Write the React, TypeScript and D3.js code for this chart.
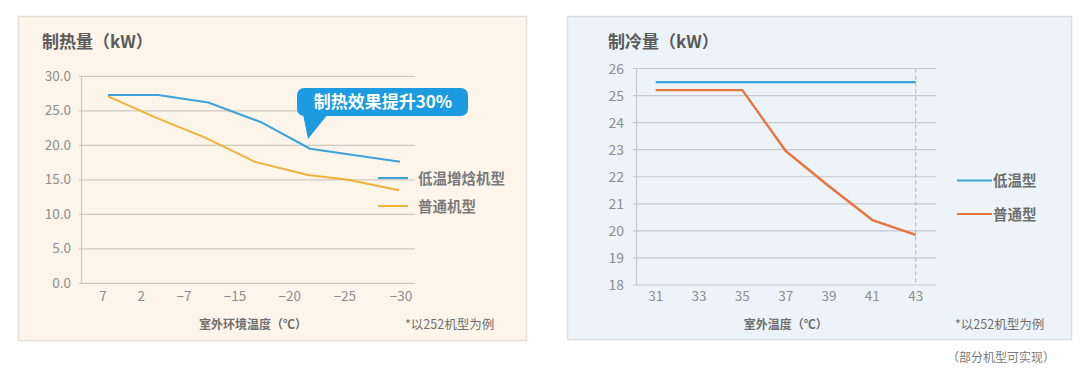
import React from 'react';
import * as d3 from 'd3';

// ---------- Left chart: heating capacity ----------
const heatTitle = '制热量（kW）';
const heatXTitle = '室外环境温度（℃）';
const heatCategories = ['7', '2', '−7', '−15', '−20', '−25', '−30'];
// category label positions along the (unevenly spaced) axis, in axis units
const heatTickPos = [0, 0.77, 1.63, 2.66, 3.76, 4.87, 6];
const heatYTicks = [0, 5, 10, 15, 20, 25, 30];
const heatLowTempX = [0.1, 1.11, 2.12, 3.2, 4.17, 5.98];
const heatLowTempY = [27.3, 27.3, 26.2, 23.3, 19.5, 17.6];
const heatNormalX = [0.1, 1.1, 2.09, 3.06, 4.13, 4.93, 5.96];
const heatNormalY = [27.1, 23.9, 21.0, 17.6, 15.7, 15.0, 13.5];
const heatLegend = ['低温增焓机型', '普通机型'];
const heatCallout = '制热效果提升30%';

// ---------- Right chart: cooling capacity ----------
const coolTitle = '制冷量（kW）';
const coolXTitle = '室外温度（℃）';
const coolTemps = [31, 33, 35, 37, 39, 41, 43];
const coolYTicks = [18, 19, 20, 21, 22, 23, 24, 25, 26];
const coolLowTemp = [25.5, 25.5, 25.5, 25.5, 25.5, 25.5, 25.5];
const coolNormal = [25.2, 25.2, 25.2, 22.95, 21.65, 20.4, 19.85];
const coolLegend = ['低温型', '普通型'];

const note = '*以252机型为例';
const footnote = '（部分机型可实现）';

const FONT = '"Noto Sans CJK SC", "Noto Sans", sans-serif';
const BLUE = '#3aa4da';
const GOLD = '#f2b233';
const ORANGE = '#e9733c';
const GRID = '#cfc8be';
const GRID2 = '#c3c9cf';
const TXT = '#8d8d8d';
const TITLE = '#5a5a5a';

function HeatChart() {
  const x = d3.scaleLinear().domain([0, 6]).range([103, 401]);
  const y = d3.scaleLinear().domain([0, 30]).range([283.3, 76.3]);
  const line = d3
    .line<[number, number]>()
    .x((d) => x(d[0]))
    .y((d) => y(d[1]));
  const blue = heatLowTempX.map((v, i) => [v, heatLowTempY[i]] as [number, number]);
  const gold = heatNormalX.map((v, i) => [v, heatNormalY[i]] as [number, number]);
  const gx0 = 81;
  const gx1 = 415;
  return (
    <g>
      <rect x={18.5} y={16.5} width={508} height={324} fill="#fdf5ea" stroke="#e2ddd6" strokeWidth={1.5} />
      <text x={42} y={48} fontSize={17} fontWeight={700} fill={TITLE}>{heatTitle}</text>
      {heatYTicks.map((t) => (
        <g key={t}>
          <line x1={gx0 - 2} x2={gx1} y1={y(t)} y2={y(t)} stroke={GRID} strokeWidth={1.2} />
          <text x={71} y={y(t) + 4.5} fontSize={13.5} fill={TXT} textAnchor="end">{t.toFixed(1)}</text>
        </g>
      ))}
      <line x1={81.5} x2={81.5} y1={y(30)} y2={y(0)} stroke={GRID} strokeWidth={1.2} />
      {heatCategories.map((c, i) => (
        <text key={c} x={x(heatTickPos[i])} y={301} fontSize={13.5} fill={TXT} textAnchor="middle">{c}</text>
      ))}
      <path d={line(gold) || ''} fill="none" stroke={GOLD} strokeWidth={2} strokeLinejoin="round" />
      <path d={line(blue) || ''} fill="none" stroke={BLUE} strokeWidth={2} strokeLinejoin="round" />
      {/* callout */}
      <rect x={297} y={88} width={171} height={28} rx={7} fill="#1d9be0" />
      <path d="M303,114 L308,139 L328,114 Z" fill="#1d9be0" />
      <text x={383} y={108} fontSize={17} fontWeight={700} fill="#ffffff" textAnchor="middle">{heatCallout}</text>
      {/* legend */}
      <line x1={378} x2={408} y1={178} y2={178} stroke={BLUE} strokeWidth={2} />
      <text x={418} y={183.5} fontSize={14.5} fontWeight={700} fill="#7a7a7a">{heatLegend[0]}</text>
      <line x1={378} x2={408} y1={206} y2={206} stroke={GOLD} strokeWidth={2} />
      <text x={418} y={211.5} fontSize={14.5} fontWeight={700} fill="#7a7a7a">{heatLegend[1]}</text>
      <text x={253} y={328.5} fontSize={12} fontWeight={700} fill="#6e6e6e" textAnchor="middle">{heatXTitle}</text>
      <text x={405} y={328.5} fontSize={12.5} fill="#6e6e6e">{note}</text>
    </g>
  );
}

function CoolChart() {
  const x = d3.scaleLinear().domain([31, 43]).range([655.7, 915.7]);
  const y = d3.scaleLinear().domain([18, 26]).range([285, 68.5]);
  const line = d3
    .line<number>()
    .x((_, i) => x(coolTemps[i]))
    .y((d) => y(d));
  const gx0 = 636;
  const gx1 = 936;
  return (
    <g>
      <rect x={567.5} y={16.5} width={504} height={323} fill="#edf4f9" stroke="#d9dee2" strokeWidth={1.5} />
      <text x={608} y={48} fontSize={17} fontWeight={700} fill={TITLE}>{coolTitle}</text>
      {coolYTicks.map((t) => (
        <g key={t}>
          <line x1={gx0 - 3} x2={gx1} y1={y(t)} y2={y(t)} stroke={GRID2} strokeWidth={1.2} />
          <text x={624} y={y(t) + 5} fontSize={14} fill={TXT} textAnchor="end">{t}</text>
        </g>
      ))}
      <line x1={636.5} x2={636.5} y1={y(26)} y2={y(18)} stroke={GRID2} strokeWidth={1.2} />
      <line x1={x(43)} x2={x(43)} y1={y(26)} y2={y(18)} stroke="#aab2b9" strokeWidth={1} strokeDasharray="4,3" />
      {coolTemps.map((t) => (
        <text key={t} x={x(t)} y={301} fontSize={13.5} fill={TXT} textAnchor="middle">{t}</text>
      ))}
      <path d={line(coolLowTemp) || ''} fill="none" stroke={BLUE} strokeWidth={2.2} />
      <path d={line(coolNormal) || ''} fill="none" stroke={ORANGE} strokeWidth={2.4} strokeLinejoin="round" />
      <line x1={957} x2={992} y1={180.5} y2={180.5} stroke={BLUE} strokeWidth={2} />
      <text x={993} y={186} fontSize={14.5} fontWeight={700} fill="#6e6e6e">{coolLegend[0]}</text>
      <line x1={957} x2={992} y1={214} y2={214} stroke={ORANGE} strokeWidth={2} />
      <text x={993} y={219.5} fontSize={14.5} fontWeight={700} fill="#6e6e6e">{coolLegend[1]}</text>
      <text x={785.7} y={328.5} fontSize={12} fontWeight={700} fill="#6e6e6e" textAnchor="middle">{coolXTitle}</text>
      <text x={955} y={328.5} fontSize={12.5} fill="#6e6e6e">{note}</text>
      <text x={947} y={362} fontSize={12} fill="#7a7a7a">{footnote}</text>
    </g>
  );
}

export default function App() {
  return (
    <svg
      width={1080}
      height={377}
      style={{ position: 'absolute', left: 0, top: 0, background: '#ffffff', fontFamily: FONT }}
    >
      <HeatChart />
      <CoolChart />
    </svg>
  );
}
